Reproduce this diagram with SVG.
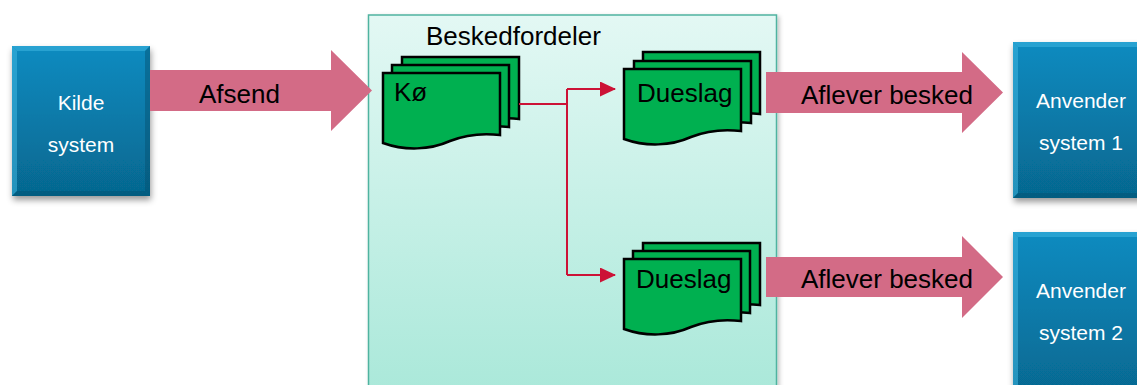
<svg xmlns="http://www.w3.org/2000/svg" xmlns:xlink="http://www.w3.org/1999/xlink" width="1137" height="385" viewBox="0 0 1137 385">
  <style>
    .sys { fill: url(#sysFill); filter: url(#boxShadow); }
    .bevelLight { fill: #3fb6e0; opacity: 0.55; }
    .bevelDark { fill: #04506e; opacity: 0.45; }
    .sysText { font-family: "Liberation Sans", Arial, sans-serif; font-size: 21px; fill: #ffffff; text-anchor: middle; }
    .label { font-family: "Liberation Sans", Arial, sans-serif; font-size: 26px; fill: #000000; }
    .page { fill: #00b050; stroke: #000000; stroke-width: 2.5; stroke-linejoin: miter; }
    .flow { fill: #d36b86; }
    .link { fill: none; stroke: #cc1236; stroke-width: 2; }
  </style>
  <defs>
    <linearGradient id="sysFill" x1="0" y1="0" x2="0" y2="1">
      <stop offset="0" stop-color="#0a8bc0"/>
      <stop offset="1" stop-color="#06678f"/>
    </linearGradient>
    <linearGradient id="hubFill" x1="0" y1="0" x2="0" y2="1">
      <stop offset="0" stop-color="#e3f8f4"/>
      <stop offset="1" stop-color="#a9e8d9"/>
    </linearGradient>
    <filter id="boxShadow" x="-10%" y="-10%" width="125%" height="125%">
      <feDropShadow dx="1" dy="4" stdDeviation="3" flood-color="#000000" flood-opacity="0.4"/>
    </filter>
    <filter id="hubShadow" x="-5%" y="-5%" width="110%" height="110%">
      <feDropShadow dx="2" dy="2" stdDeviation="2" flood-color="#000000" flood-opacity="0.25"/>
    </filter>
    <!-- document page with wavy bottom edge -->
    <path id="page" d="M0,0 H117 V62 C100,60 82,62 67,68 C47,77 22,78 0,70 Z"/>
    <marker id="redHead" markerUnits="userSpaceOnUse" markerWidth="16" markerHeight="16" refX="15" refY="7.5" orient="auto">
      <path d="M0,0 L16,7.5 L0,15 Z" fill="#cc1236"/>
    </marker>
  </defs>

  <!-- message broker container -->
  <g id="beskedfordeler">
    <rect x="368.5" y="15" width="408" height="385" fill="url(#hubFill)" stroke="#4fb3a0" stroke-width="1.5" filter="url(#hubShadow)"/>
    <text class="label" x="426" y="45">Beskedfordeler</text>
  </g>

  <!-- source system -->
  <g id="kilde-system">
    <rect class="sys" x="12" y="46" width="138" height="150"/>
    <polygon class="bevelLight" points="12,46 150,46 145,51 17,51"/>
    <polygon class="bevelLight" points="12,46 17,51 17,191 12,196"/>
    <polygon class="bevelDark" points="12,196 17,191 145,191 150,196"/>
    <polygon class="bevelDark" points="150,46 150,196 145,191 145,51"/>
    <text class="sysText" x="81" y="110">Kilde</text>
    <text class="sysText" x="81" y="152">system</text>
  </g>

  <!-- consumer system 1 -->
  <g id="anvender-system-1">
    <rect class="sys" x="1013" y="42" width="140" height="156"/>
    <polygon class="bevelLight" points="1013,42 1153,42 1148,47 1018,47"/>
    <polygon class="bevelLight" points="1013,42 1018,47 1018,193 1013,198"/>
    <polygon class="bevelDark" points="1013,198 1018,193 1148,193 1153,198"/>
    <text class="sysText" x="1081" y="108">Anvender</text>
    <text class="sysText" x="1081" y="150">system 1</text>
  </g>

  <!-- consumer system 2 -->
  <g id="anvender-system-2">
    <rect class="sys" x="1013" y="232" width="140" height="170"/>
    <polygon class="bevelLight" points="1013,232 1153,232 1148,237 1018,237"/>
    <polygon class="bevelLight" points="1013,232 1018,237 1018,400 1013,400"/>
    <text class="sysText" x="1081" y="298">Anvender</text>
    <text class="sysText" x="1081" y="340">system 2</text>
  </g>

  <!-- queue -->
  <g id="koe">
    <use xlink:href="#page" class="page" x="402" y="57"/>
    <use xlink:href="#page" class="page" x="392" y="65"/>
    <use xlink:href="#page" class="page" x="383" y="73"/>
    <text class="label" x="394" y="101">Kø</text>
  </g>

  <!-- pigeonhole 1 -->
  <g id="dueslag-1">
    <use xlink:href="#page" class="page" x="643" y="52"/>
    <use xlink:href="#page" class="page" x="634" y="61"/>
    <use xlink:href="#page" class="page" x="624" y="69"/>
    <text class="label" x="637" y="102">Dueslag</text>
  </g>

  <!-- pigeonhole 2 -->
  <g id="dueslag-2">
    <use xlink:href="#page" class="page" x="643" y="243"/>
    <use xlink:href="#page" class="page" x="633" y="251"/>
    <use xlink:href="#page" class="page" x="624" y="259"/>
    <text class="label" x="636" y="288">Dueslag</text>
  </g>

  <!-- connectors -->
  <g id="connectors">
    <polygon class="flow" points="150,70 331,70 331,50 372,90.5 331,131 331,111 150,111"/>
    <text class="label" x="199" y="103">Afsend</text>

    <path class="link" d="M519,104 H567"/>
    <path class="link" d="M567,89 V275"/>
    <path class="link" d="M567,89 H615" marker-end="url(#redHead)"/>
    <path class="link" d="M567,275 H615" marker-end="url(#redHead)"/>

    <polygon class="flow" points="766,72 962,72 962,52 1003,92.5 962,133 962,113 766,113"/>
    <text class="label" x="801" y="104">Aflever besked</text>

    <polygon class="flow" points="766,257 962,257 962,236 1003,277 962,318 962,297 766,297"/>
    <text class="label" x="801" y="288">Aflever besked</text>
  </g>
</svg>
